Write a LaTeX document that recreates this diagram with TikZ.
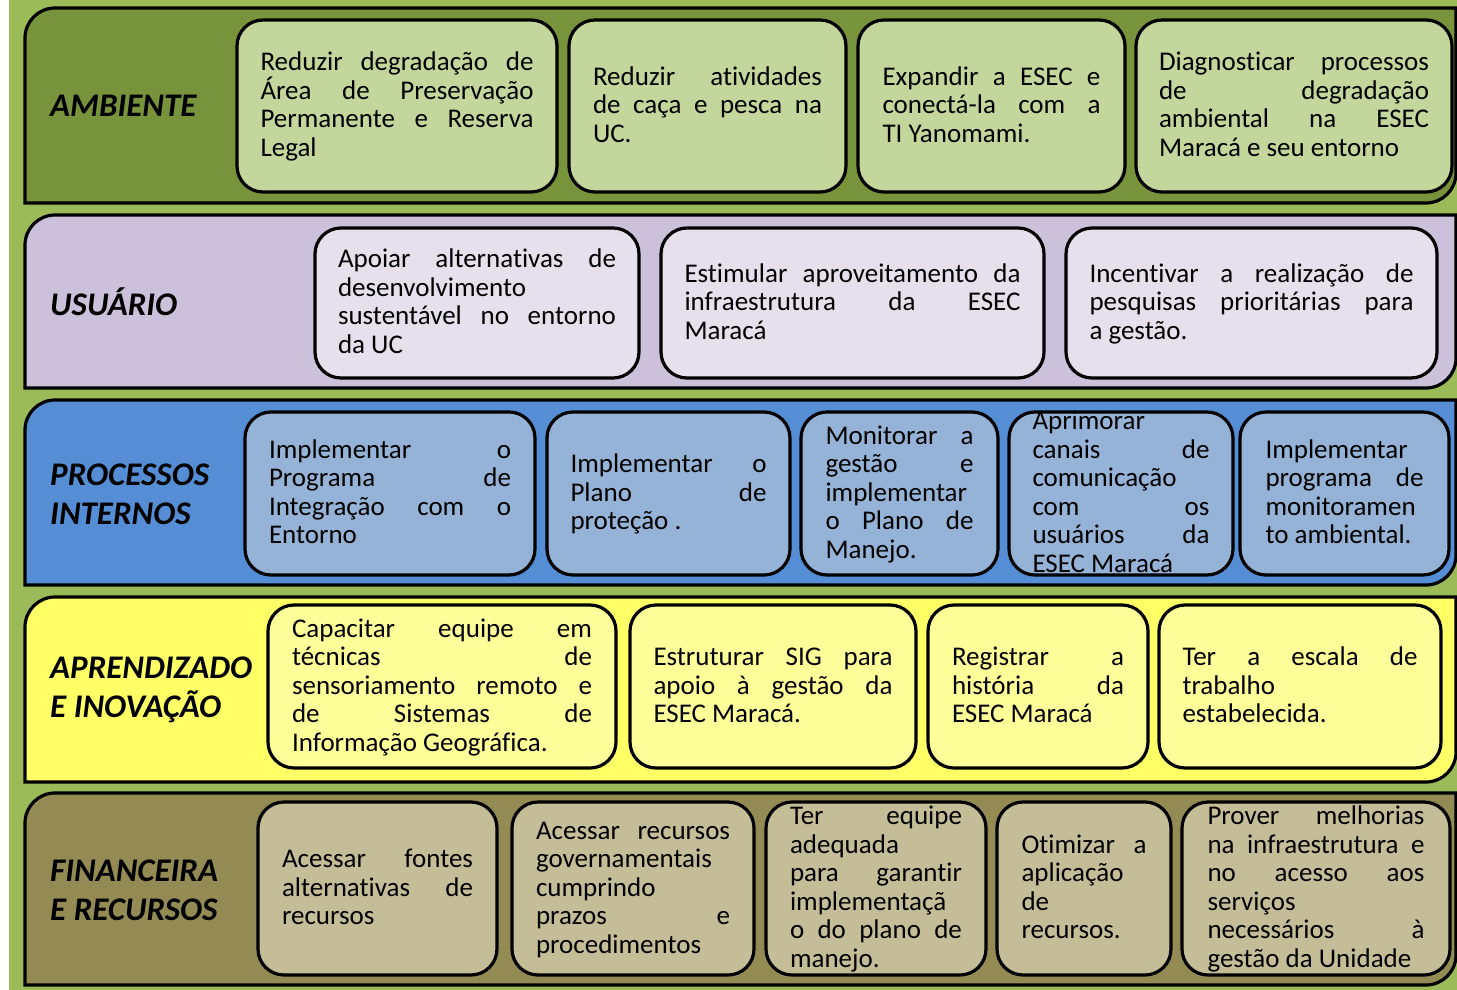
\documentclass[tikz,border=0pt]{standalone}
\usepackage{fontspec}
\setmainfont{Carlito}[Ligatures=NoCommon]
\definecolor{bg}{HTML}{9BBB59}
\definecolor{bA}{HTML}{77933C}\definecolor{cA}{HTML}{C3D69B}
\definecolor{bB}{HTML}{CCC1DA}\definecolor{cB}{HTML}{E6E0EC}
\definecolor{bC}{HTML}{558ED5}\definecolor{cC}{HTML}{95B3D7}
\definecolor{bD}{HTML}{FFFF66}\definecolor{cD}{HTML}{FFFF99}
\definecolor{bE}{HTML}{948A54}\definecolor{cE}{HTML}{C4BD97}
\def\curW{100pt}
\newcommand{\J}[1]{\hbox to \curW{\spaceskip=0.23em plus 1fil\relax\strut #1}}
\newcommand{\Ln}[1]{\hbox to \curW{\strut #1\hfil}}
\newcommand{\band}[3]{%
  \draw[bandline, fill=#3] (25,-#2) -- (25,{-#1-30}) arc[start angle=180,end angle=90,radius=30]
    -- (1456,-#1) -- (1456,{-#2+30}) arc[start angle=0,end angle=-90,radius=30] -- cycle;}
\newcommand{\bx}[6]{%
  \node[boxshape, fill=#6, minimum width={(#4-#2)*1pt}, minimum height={(#5-#3)*1pt}]
    (#1) at ({(#2+#4)/2},{-(#3+#5)/2}) {};}
\newcommand{\tx}[4]{\def\curW{#3pt}\node[txt] (#1) at (#2.center) {\vbox{\lineskiplimit=-100pt\lineskip=0pt #4}};}
\tikzset{
  bandline/.style={draw=black, line width=3.2pt},
  boxshape/.style={draw=black, line width=3.2pt, rounded corners=26pt, inner sep=0pt, rectangle},
  txt/.style={inner sep=0pt, yshift=-2pt, font=\fontsize{27}{28.5}\selectfont},
  lab/.style={inner sep=0pt, align=left, anchor=west, font=\fontsize{33}{39}\selectfont\bfseries\itshape},
}
\begin{document}
\begin{tikzpicture}[x=1pt,y=1pt]
\useasboundingbox (0,0) rectangle (1457,-990);
\fill[bg] (9,0) rectangle (1457,-990);
% bands
\band{8}{203}{bA}
\band{215}{388}{bB}
\band{400}{585}{bC}
\band{597}{782}{bD}
\band{793}{985}{bE}
% labels
\node[lab] (lA) at (50,-106) {AMBIENTE};
\node[lab] (lB) at (50,-302) {USUÁRIO};
\node[lab] (lC) at (50,-494) {PROCESSOS\\INTERNOS};
\node[lab] (lD) at (50,-690) {APRENDIZADO\\E INOVAÇÃO};
\node[lab] (lE) at (50,-890) {FINANCEIRA\\E RECURSOS};
% row 1
\bx{b11}{237}{20}{557}{192}{cA}
\bx{b12}{569}{20}{846}{192}{cA}
\bx{b13}{858}{20}{1125}{192}{cA}
\bx{b14}{1136}{20}{1452}{192}{cA}
\tx{t11}{b11}{273}{\J{Reduzir degradação de}\J{Área de Preservação}\J{Permanente e Reserva}\Ln{Legal}}
\tx{t12}{b12}{229}{\J{Reduzir atividades}\J{de caça e pesca na}\Ln{UC.}}
\tx{t13}{b13}{218}{\J{Expandir a ESEC e}\J{conectá-la com a}\Ln{TI Yanomami.}}
\tx{t14}{b14}{270}{\J{Diagnosticar processos}\J{de degradação}\J{ambiental na ESEC}\Ln{Maracá e seu entorno}}
% row 2
\bx{b21}{315}{228}{639}{378}{cB}
\bx{b22}{661}{228}{1044}{378}{cB}
\bx{b23}{1066}{228}{1437}{378}{cB}
\tx{t21}{b21}{278}{\J{Apoiar alternativas de}\Ln{desenvolvimento}\J{sustentável no entorno}\Ln{da UC}}
\tx{t22}{b22}{336}{\J{Estimular aproveitamento da}\J{infraestrutura da ESEC}\Ln{Maracá}}
\tx{t23}{b23}{324}{\J{Incentivar a realização de}\J{pesquisas prioritárias para}\Ln{a gestão.}}
% row 3
\bx{b31}{245}{412}{535}{575}{cC}
\bx{b32}{547}{412}{790}{575}{cC}
\bx{b33}{801}{412}{998}{575}{cC}
\bx{b34}{1009}{412}{1233}{575}{cC}
\bx{b35}{1240}{412}{1449}{575}{cC}
\tx{t31}{b31}{242}{\J{Implementar o}\J{Programa de}\J{Integração com o}\Ln{Entorno}}
\tx{t32}{b32}{196}{\J{Implementar o}\J{Plano de}\Ln{proteção .}}
\tx{t33}{b33}{148}{\J{Monitorar a}\J{gestão e}\Ln{implementar}\J{o Plano de}\Ln{Manejo.}}
\tx{t34}{b34}{177}{\Ln{Aprimorar}\J{canais de}\Ln{comunicação}\J{com os}\J{usuários da}\Ln{ESEC Maracá}}
\tx{t35}{b35}{158}{\Ln{Implementar}\J{programa de}\Ln{monitoramen}\Ln{to ambiental.}}
% row 4
\bx{b41}{268}{605}{616}{768}{cD}
\bx{b42}{630}{605}{916}{768}{cD}
\bx{b43}{928}{605}{1148}{768}{cD}
\bx{b44}{1159}{605}{1441}{768}{cD}
\tx{t41}{b41}{300}{\J{Capacitar equipe em}\J{técnicas de}\J{sensoriamento remoto e}\J{de Sistemas de}\Ln{Informação Geográfica.}}
\tx{t42}{b42}{239}{\J{Estruturar SIG para}\J{apoio à gestão da}\Ln{ESEC Maracá.}}
\tx{t43}{b43}{172}{\J{Registrar a}\J{história da}\Ln{ESEC Maracá}}
\tx{t44}{b44}{235}{\J{Ter a escala de}\Ln{trabalho}\Ln{estabelecida.}}
% row 5
\bx{b51}{258}{802}{497}{975}{cE}
\bx{b52}{512}{802}{754}{975}{cE}
\bx{b53}{766}{802}{986}{975}{cE}
\bx{b54}{997}{802}{1171}{975}{cE}
\bx{b55}{1182}{802}{1450}{975}{cE}
\tx{t51}{b51}{191}{\J{Acessar fontes}\J{alternativas de}\Ln{recursos}}
\tx{t52}{b52}{194}{\J{Acessar recursos}\Ln{governamentais}\Ln{cumprindo}\J{prazos e}\Ln{procedimentos}}
\tx{t53}{b53}{172}{\J{Ter equipe}\Ln{adequada}\J{para garantir}\Ln{implementaçã}\J{o do plano de}\Ln{manejo.}}
\tx{t54}{b54}{125}{\J{Otimizar a}\Ln{aplicação}\Ln{de}\Ln{recursos.}}
\tx{t55}{b55}{217}{\J{Prover melhorias}\J{na infraestrutura e}\J{no acesso aos}\Ln{serviços}\J{necessários à}\Ln{gestão da Unidade}}
\end{tikzpicture}
\end{document}
